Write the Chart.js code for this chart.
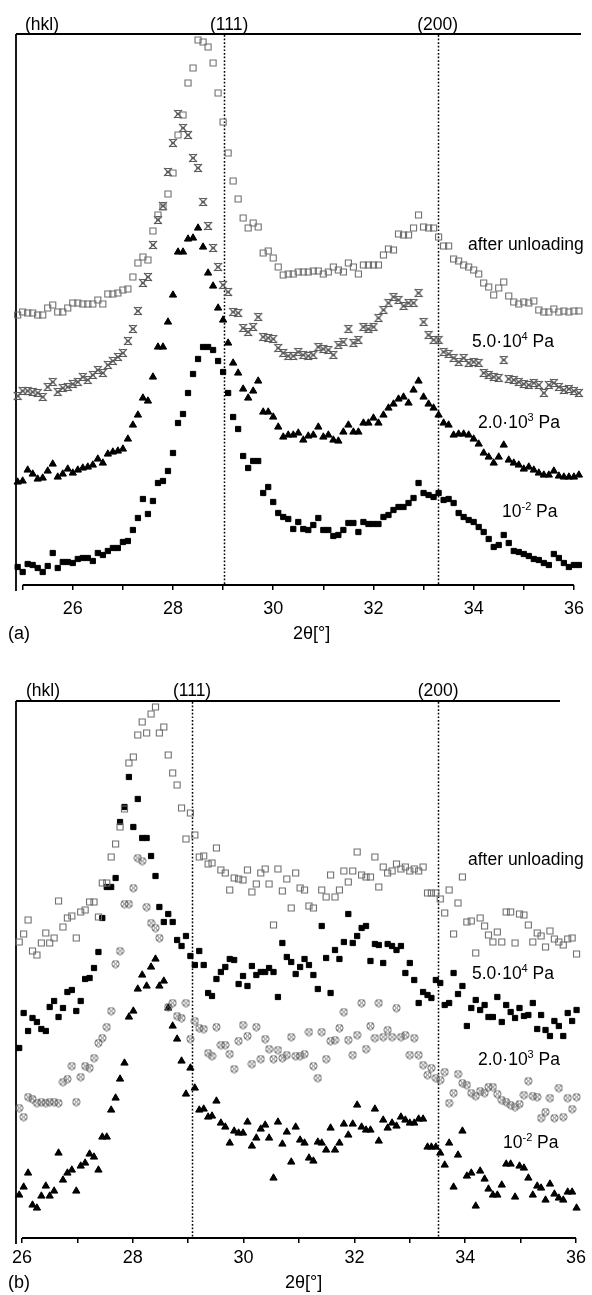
<!DOCTYPE html>
<html>
<head>
<meta charset="utf-8">
<script src="https://cdn.jsdelivr.net/npm/chart.js@4.4.1/dist/chart.umd.min.js"></script>
<style>
  html, body { margin: 0; padding: 0; background: #fff; }
  canvas { display: block; }
</style>
</head>
<body>
<canvas id="chartA" width="592" height="645"></canvas>
<canvas id="chartB" width="592" height="650"></canvas>
<script>
// ---- panel (a): 2theta grid and intensities (arbitrary units) ----
const thetaA = [24.9, 25.0, 25.1, 25.2, 25.3, 25.4, 25.5, 25.6, 25.7, 25.8,
  25.9, 26.0, 26.1, 26.2, 26.3, 26.4, 26.5, 26.6, 26.7, 26.8,
  26.9, 27.0, 27.1, 27.2, 27.3, 27.4, 27.5, 27.6, 27.7, 27.8,
  27.9, 28.0, 28.1, 28.2, 28.3, 28.4, 28.5, 28.6, 28.7, 28.8,
  28.9, 29.0, 29.1, 29.2, 29.3, 29.4, 29.5, 29.6, 29.7, 29.8,
  29.9, 30.0, 30.1, 30.2, 30.3, 30.4, 30.5, 30.6, 30.7, 30.8,
  30.9, 31.0, 31.1, 31.2, 31.3, 31.4, 31.5, 31.6, 31.7, 31.8,
  31.9, 32.0, 32.1, 32.2, 32.3, 32.4, 32.5, 32.6, 32.7, 32.8,
  32.9, 33.0, 33.1, 33.2, 33.3, 33.4, 33.5, 33.6, 33.7, 33.8,
  33.9, 34.0, 34.1, 34.2, 34.3, 34.4, 34.5, 34.6, 34.7, 34.8,
  34.9, 35.0, 35.1, 35.2, 35.3, 35.4, 35.5, 35.6, 35.7, 35.8,
  35.9, 36.0, 36.1];

const unloadA = [270, 273, 272, 272, 270, 270, 277, 280, 273, 273,
  277, 282, 282, 281, 281, 281, 285, 281, 291, 291,
  292, 295, 296, 308, 322, 328, 325, 354, 370, 378,
  391, 412, 450, 470, 502, 517, 545, 543, 538, 522,
  492, 463, 432, 404, 386, 367, 357, 362, 358, 332,
  334, 327, 318, 310, 311, 311, 313, 313, 313, 314,
  314, 311, 313, 318, 315, 313, 322, 318, 311, 320,
  320, 320, 320, 330, 336, 335, 351, 350, 350, 357,
  370, 358, 357, 357, 348, 339, 339, 326, 324, 320,
  318, 315, 311, 302, 298, 290, 297, 303, 289, 283,
  281, 283, 282, 284, 275, 273, 273, 276, 273, 274,
  273, 274, 274];

const p5e4A = [189, 194, 194, 193, 192, 188, 198, 203, 193, 197,
  198, 201, 203, 208, 205, 210, 215, 212, 220, 224,
  228, 232, 244, 256, 274, 302, 308, 340, 365, 379,
  413, 442, 471, 457, 450, 427, 417, 383, 359, 337,
  318, 300, 293, 273, 272, 257, 253, 258, 268, 248,
  247, 246, 237, 232, 229, 229, 233, 230, 229, 230,
  238, 236, 235, 230, 240, 243, 256, 242, 245, 258,
  256, 258, 267, 275, 282, 288, 285, 279, 282, 282,
  292, 263, 250, 245, 245, 233, 231, 227, 223, 227,
  222, 223, 222, 212, 210, 208, 207, 225, 206, 205,
  203, 201, 200, 202, 200, 192, 200, 202, 198, 195,
  196, 194, 192];

const p2e3A = [103, 104, 115, 111, 106, 107, 114, 121, 108, 111,
  116, 112, 115, 117, 118, 120, 126, 122, 131, 133,
  134, 136, 146, 160, 170, 187, 184, 208, 238, 238,
  263, 290, 333, 333, 346, 347, 357, 338, 312, 299,
  277, 265, 242, 222, 212, 196, 187, 194, 204, 173,
  173, 168, 158, 148, 150, 150, 152, 145, 149, 150,
  158, 148, 150, 145, 144, 153, 160, 153, 153, 162,
  162, 167, 162, 170, 177, 181, 186, 188, 182, 195,
  204, 188, 181, 177, 170, 162, 160, 150, 151, 151,
  150, 146, 141, 132, 128, 122, 128, 140, 125, 122,
  120, 116, 118, 115, 112, 110, 110, 114, 109, 108,
  108, 108, 110];

const p1e2A = [18, 13, 21, 20, 17, 13, 19, 32, 17, 23,
  23, 22, 26, 27, 27, 24, 32, 30, 34, 37,
  37, 43, 44, 55, 67, 86, 71, 84, 102, 104,
  114, 132, 162, 171, 192, 211, 226, 238, 238, 235,
  224, 213, 192, 168, 156, 129, 117, 124, 124, 92,
  98, 83, 72, 68, 66, 56, 63, 56, 55, 60,
  67, 55, 55, 49, 50, 55, 62, 62, 53, 63,
  61, 61, 61, 68, 70, 75, 78, 78, 82, 87,
  102, 92, 90, 88, 92, 85, 86, 82, 72, 68,
  65, 63, 58, 53, 46, 38, 40, 50, 42, 34,
  33, 31, 29, 26, 25, 22, 20, 31, 27, 22,
  18, 20, 20];

// ---- panel (b) ----
const thetaB = [25.95, 26.03, 26.11, 26.19, 26.27, 26.35, 26.43, 26.50, 26.58, 26.66,
  26.74, 26.82, 26.90, 26.98, 27.06, 27.14, 27.22, 27.30, 27.38, 27.45,
  27.53, 27.61, 27.69, 27.77, 27.85, 27.93, 28.01, 28.09, 28.17, 28.25,
  28.33, 28.41, 28.48, 28.56, 28.64, 28.72, 28.80, 28.88, 28.96, 29.04,
  29.12, 29.20, 29.28, 29.36, 29.43, 29.51, 29.59, 29.67, 29.75, 29.83,
  29.91, 29.99, 30.07, 30.15, 30.23, 30.31, 30.39, 30.46, 30.54, 30.62,
  30.70, 30.78, 30.86, 30.94, 31.02, 31.10, 31.18, 31.26, 31.34, 31.41,
  31.49, 31.57, 31.65, 31.73, 31.81, 31.89, 31.97, 32.05, 32.13, 32.21,
  32.29, 32.37, 32.44, 32.52, 32.60, 32.68, 32.76, 32.84, 32.92, 33.00,
  33.08, 33.16, 33.24, 33.32, 33.39, 33.47, 33.55, 33.63, 33.71, 33.79,
  33.87, 33.95, 34.03, 34.11, 34.19, 34.27, 34.35, 34.42, 34.50, 34.58,
  34.66, 34.74, 34.82, 34.90, 34.98, 35.06, 35.14, 35.22, 35.30, 35.37,
  35.45, 35.53, 35.61, 35.69, 35.77, 35.85, 35.93, 36.01];

const unloadB = [296, 304, 318, 287, 283, 295, 305, 295, 300, 337,
  311, 320, 322, 300, 326, 328, 336, 336, 321, 355,
  355, 381, 394, 411, 429, 475, 481, 503, 516, 505,
  524, 531, 505, 511, 483, 465, 453, 430, 399, 425,
  403, 381, 382, 374, 375, 390, 368, 365, 348, 360,
  359, 358, 368, 346, 354, 365, 369, 354, 313, 369,
  347, 359, 330, 365, 350, 348, 332, 330, null, 348,
  341, 363, 341, 348, 367, 356, 367, 386, 363, 361,
  361, 381, 351, 371, 365, 367, 374, 369, 371, 367,
  369, 367, 371, 345, 345, 345, 339, 325, 348, 304,
  335, 361, 316, 317, 285, 320, 312, 303, 296, 306,
  296, 326, 326, 295, 324, 323, 313, 296, 305, 302,
  291, 307, 299, 296, 293, 299, 300, 284];

const p5e4B = [190, 225, 207, 220, 216, 209, 207, 231, 237, 221,
  230, 246, 248, 227, 237, 259, 260, 270, 286, 320,
  351, 351, 360, 416, 431, 461, 411, 439, 400, 400,
  382, 362, 331, 316, 324, 316, 298, 292, 302, 282,
  273, 287, 273, 245, 242, 259, 266, 271, 279, 278,
  254, 262, 252, 272, 263, 266, 266, 270, 266, 241,
  295, 281, 276, 264, 271, 279, 273, 263, 249, 312,
  280, 245, 288, 279, 296, 324, 295, 302, 310, 312,
  277, 294, 293, 275, 294, 292, 288, 292, 265, 275,
  258, 235, 246, 243, 240, 258, 255, 233, 235, 265,
  244, 252, 212, 230, 238, 228, 233, 221, 221, 241,
  216, 233, 226, 220, 230, 222, 223, 235, 209, 223,
  208, 202, 217, 212, 202, 225, 217, 228];

const p2e3B = [130, 121, 141, 139, 135, 136, 135, 136, 136, 135,
  156, 159, 172, 136, 161, 172, 170, 180, 195, 200,
  211, 227, 274, 287, 334, 334, 350, 380, 377, 331,
  315, 310, 300, null, 231, 235, 222, 220, 235, 199,
  217, 210, 209, 185, 182, 211, 193, 193, 184, 169,
  197, 213, 202, 174, 211, 179, 199, 189, 179, 188,
  180, 183, 201, 182, 182, 184, 206, 172, 160, 206,
  179, 197, 198, 210, 226, 198, 183, 203, 235, 189,
  212, 200, 235, 201, 208, 201, 230, 201, 203, 183,
  200, 183, 173, 163, 170, 160, 158, 166, 135, 145,
  164, 155, 153, 145, 142, 147, 145, 151, 151, 144,
  138, 136, 133, 131, 134, 143, 157, 142, 141, 120,
  126, 140, 120, 150, 121, 140, 129, 141];

const p1e2B = [43, 51, 65, 33, 30, 42, 52, 42, 47, 85,
  58, 65, 68, 47, 72, 75, 84, 81, 68, 101,
  101, 128, 140, 159, 175, 221, 227, 249, 263, 252,
  271, 279, 252, 257, 230, 212, 199, 177, 144, 170,
  150, 128, 129, 121, 122, 137, 115, 111, 95, 107,
  105, 105, 116, 92, 100, 109, 113, 100, 60, 116,
  94, 106, 76, 111, 98, 95, 80, 77, 96, 95,
  88, 110, 88, 95, 114, 103, 114, 133, 111, 108,
  108, 129, 97, 118, 110, 115, 112, 121, 118, 115,
  115, 119, 119, 91, 91, 91, 85, 73, 95, 51,
  83, 107, 62, 65, 32, 67, 59, 49, 43, 43,
  53, 74, 74, 41, 72, 70, 60, 43, 52, 50,
  38, 54, 44, 40, 38, 46, 46, 30];

const seriesNames = ['after unloading', '5.0·10⁴ Pa', '2.0·10³ Pa', '10⁻² Pa'];
const peakLabels = ['(111)', '(200)'];
const peaksA = [29.02, 33.28];
const peaksB = [29.07, 33.51];

const FONT = '"Liberation Sans", Arial, Helvetica, sans-serif';

// little marker images for the two hatched symbols
function marker(size, draw) {
  const c = document.createElement('canvas');
  c.width = size; c.height = size;
  draw(c.getContext('2d'), size);
  return c;
}
const xBar = marker(10, (g) => {
  g.strokeStyle = '#5a5a5a';
  g.lineWidth = 1.1;
  g.beginPath();
  g.moveTo(1, 1); g.lineTo(9, 9);
  g.moveTo(9, 1); g.lineTo(1, 9);
  g.moveTo(2.5, 1.5); g.lineTo(7.5, 1.5);
  g.moveTo(3, 5); g.lineTo(7, 5);
  g.moveTo(2, 8.5); g.lineTo(8, 8.5);
  g.stroke();
});
const circX = marker(9, (g) => {
  g.strokeStyle = '#666';
  g.lineWidth = 1;
  g.beginPath();
  g.arc(4.5, 4.5, 3.6, 0, Math.PI * 2);
  g.moveTo(2, 2); g.lineTo(7, 7);
  g.moveTo(7, 2); g.lineTo(2, 7);
  g.stroke();
});

function points(xs, ys) {
  return xs.map((x, i) => ({ x: x, y: ys[i] })).filter(p => p.y !== null);
}

function ds(label, xs, ys, style) {
  return Object.assign({
    label: label,
    data: points(xs, ys),
    showLine: false,
    clip: false,
    pointBorderWidth: 1
  }, style);
}

const openSq = { pointStyle: 'rect', pointRadius: 4.3, pointBorderWidth: 1.1, pointBackgroundColor: 'rgba(0,0,0,0)', pointBorderColor: '#707070' };
const fillSq = { pointStyle: 'rect', pointRadius: 3.7, pointBackgroundColor: '#000', pointBorderColor: '#000' };
const tri = { pointStyle: 'triangle', pointRadius: 4.2, pointBackgroundColor: '#000', pointBorderColor: '#000' };
const xMark = { pointStyle: xBar, pointRadius: 5 };
const cMark = { pointStyle: circX, pointRadius: 4.5 };

function drawParts(ctx, parts, x, y, size) {
  parts.forEach(p => {
    const sup = p[1];
    ctx.font = (sup ? Math.round(size * 0.64) : size) + 'px ' + FONT;
    ctx.fillText(p[0], x, sup ? y - size * 0.42 : y);
    x += ctx.measureText(p[0]).width;
  });
}

const labelParts = [
  [['after unloading']],
  [['5.0·10'], ['4', true], [' Pa']],
  [['2.0·10'], ['3', true], [' Pa']],
  [['10'], ['-2', true], [' Pa']]
];

function decor(cfg) {
  return {
    id: 'decor',
    beforeDatasetsDraw(chart) {
      const ctx = chart.ctx, a = chart.chartArea, x = chart.scales.x;
      ctx.save();
      ctx.strokeStyle = '#000';
      ctx.lineWidth = 1.8;
      ctx.beginPath();
      ctx.moveTo(a.left, a.top); ctx.lineTo(cfg.topEnd, a.top);
      ctx.moveTo(a.left, a.top); ctx.lineTo(a.left, a.bottom + 6);
      ctx.moveTo(x.getPixelForValue(cfg.axisFrom), a.bottom);
      ctx.lineTo(x.getPixelForValue(cfg.axisTo), a.bottom);
      ctx.stroke();
      ctx.lineWidth = 1.5;
      ctx.setLineDash([1.7, 1.9]);
      cfg.peaks.forEach(p => {
        const px = Math.round(x.getPixelForValue(p)) + 0.5;
        ctx.beginPath();
        ctx.moveTo(px, a.top + 1);
        ctx.lineTo(px, a.bottom);
        ctx.stroke();
      });
      ctx.restore();
    },
    afterDraw(chart) {
      const ctx = chart.ctx, x = chart.scales.x;
      ctx.save();
      ctx.fillStyle = '#000';
      ctx.textBaseline = 'alphabetic';
      ctx.font = '17.5px ' + FONT;
      ctx.textAlign = 'left';
      ctx.fillText('(hkl)', cfg.hklX, cfg.hklY);
      ctx.textAlign = 'center';
      cfg.peaks.forEach((p, i) => {
        ctx.fillText(peakLabels[i], x.getPixelForValue(p) + cfg.peakDx[i], cfg.hklY);
      });
      ctx.textAlign = 'left';
      cfg.labels.forEach((pos, i) => drawParts(ctx, labelParts[i], pos[0], pos[1], 17.5));
      ctx.font = '18px ' + FONT;
      ctx.fillText(cfg.panel, 8, cfg.bottomY);
      ctx.fillText('2θ[°]', cfg.titleX, cfg.bottomY);
      ctx.restore();
    }
  };
}

function makeChart(id, data, opt) {
  return new Chart(document.getElementById(id), {
    type: 'scatter',
    data: { datasets: data },
    options: {
      responsive: false,
      animation: false,
      devicePixelRatio: 1,
      events: [],
      layout: { padding: opt.padding },
      plugins: { legend: { display: false }, tooltip: { enabled: false } },
      scales: {
        x: {
          type: 'linear',
          min: opt.xmin,
          max: opt.xmax,
          afterFit: (s) => { s.height = opt.axisH; },
          border: { display: false },
          grid: { drawOnChartArea: false, drawTicks: true, tickLength: 5, color: '#000', lineWidth: 1.5 },
          ticks: {
            stepSize: 1,
            includeBounds: false,
            autoSkip: false,
            maxRotation: 0,
            color: '#000',
            padding: opt.tickPad,
            font: { family: FONT, size: 18 },
            callback: (v) => (v % 2 === 0 ? String(v) : '')
          }
        },
        y: { display: false, min: 0, max: opt.ymax }
      }
    },
    plugins: [decor(opt.decor)]
  });
}

makeChart('chartA', [
  ds(seriesNames[0], thetaA, unloadA, openSq),
  ds(seriesNames[1], thetaA, p5e4A, xMark),
  ds(seriesNames[2], thetaA, p2e3A, tri),
  ds(seriesNames[3], thetaA, p1e2A, fillSq)
], {
  padding: { left: 16, right: 11, top: 34, bottom: 0 },
  xmin: 24.867, xmax: 36.1, ymax: 551, axisH: 60, tickPad: 8,
  decor: {
    topEnd: 581, axisFrom: 25, axisTo: 36, peaks: peaksA, peakDx: [5, 0],
    hklX: 25, hklY: 30,
    labels: [[468, 250], [472, 347], [478, 428], [502, 517]],
    panel: '(a)', titleX: 293, bottomY: 639
  }
});

makeChart('chartB', [
  ds(seriesNames[0], thetaB, unloadB, openSq),
  ds(seriesNames[1], thetaB, p5e4B, fillSq),
  ds(seriesNames[2], thetaB, p2e3B, cMark),
  ds(seriesNames[3], thetaB, p1e2B, tri)
], {
  padding: { left: 16, right: 12, top: 56, bottom: 0 },
  xmin: 25.892, xmax: 36.072, ymax: 537, axisH: 57, tickPad: 4,
  decor: {
    topEnd: 560, axisFrom: 26, axisTo: 36, peaks: peaksB, peakDx: [0, 0],
    hklX: 26, hklY: 51,
    labels: [[468, 220], [472, 334], [478, 420], [503, 503]],
    panel: '(b)', titleX: 285, bottomY: 643
  }
});
</script>
</body>
</html>
